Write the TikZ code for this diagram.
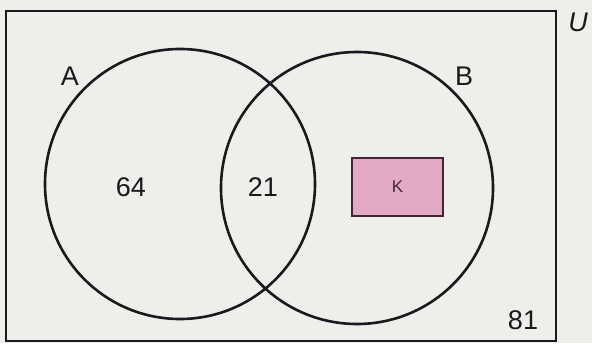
\documentclass[tikz,border=0pt]{standalone}
\usepackage{fontspec}
\setmainfont{Liberation Sans}
\definecolor{paper}{RGB}{238,238,235}
\definecolor{ink}{RGB}{25,25,30}
\definecolor{kfill}{RGB}{226,170,196}
\definecolor{kedge}{RGB}{70,35,55}
\begin{document}
\begin{tikzpicture}[x=1pt,y=-1pt,
  setline/.style={draw=ink,line width=2.6pt},
  lbl/.style={font=\fontsize{27}{30}\selectfont,text=ink,inner sep=0pt}]
\useasboundingbox (0,0) rectangle (592,343);
\fill[paper] (0,0) rectangle (592,343);
% universal set
\draw[setline] (6,11) rectangle (556,341);
\node[lbl,font=\fontsize{27}{30}\selectfont\itshape] (U) at (578,22) {U};
% sets A and B
\node[setline,circle,minimum size=270pt,inner sep=0pt] (A) at (180,184) {};
\node[setline,circle,minimum size=272pt,inner sep=0pt] (B) at (357,188) {};
\node[lbl] (la) at (70,76) {A};
\node[lbl] (lb) at (464,76) {B};
% region counts
\node[lbl] (n64) at (131,187) {64};
\node[lbl] (n21) at (263,187) {21};
\node[lbl] (n81) at (523,320) {81};
% subset K
\node[draw=kedge,fill=kfill,line width=1.6pt,minimum width=91pt,minimum height=58pt,inner sep=0pt,
  font=\fontsize{17}{20}\selectfont,text=kedge] (K) at (397.5,187) {K};
\end{tikzpicture}
\end{document}
